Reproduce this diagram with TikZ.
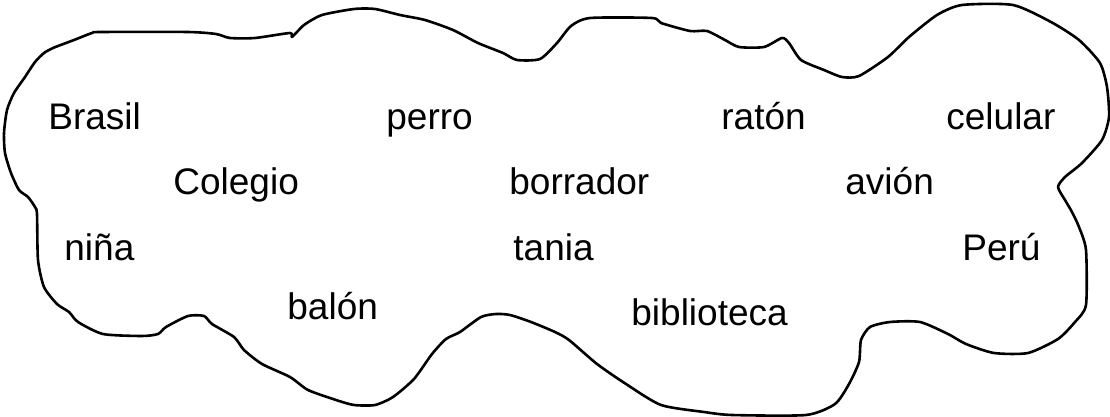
\documentclass[tikz,border=0pt]{standalone}
\usepackage{fontspec}
\setmainfont{Liberation Sans}

\begin{document}
\begin{tikzpicture}[x=0.5pt,y=-0.5pt,
	word/.style={anchor=base west,inner sep=0pt,font=\fontsize{18.5}{22}\selectfont}]
	\useasboundingbox (0,0) rectangle (1110,417);
	% cloud
	\draw[line width=1.3pt,line join=round] plot[smooth cycle,tension=0.4] coordinates {
		(101,32) (188,32) (216,34) (230,38) (255,38) (290,33) (292,37) (304,25)
		(322,15) (354,9) (375,9) (400,15) (425,20) (453,30) (478,43) (503,53)
		(517,60) (540,59) (557,43) (571,26) (590,18) (652,18) (661,23) (690,31)
		(707,31) (725,40) (739,47) (764,47) (782,38) (789,43) (801,60) (824,70)
		(842,77) (859,76) (888,57) (909,37) (937,15) (962,5) (1013,5) (1051,22)
		(1079,40) (1100,63) (1107,87) (1109,117) (1102,140) (1082,163) (1065,177)
		(1058,187) (1065,200) (1072,212) (1079,227) (1086,250) (1086,305) (1075,322)
		(1058,339) (1028,353) (994,353) (966,344) (948,334) (920,322) (890,322)
		(870,327) (861,340) (859,362) (849,384) (835,404) (806,415) (732,415)
		(704,412) (661,405) (626,384) (597,364) (569,340) (555,332) (531,322)
		(510,315) (496,314) (481,317) (460,332) (446,339) (432,354) (414,379)
		(393,397) (375,405) (354,405) (336,400) (308,390) (290,377) (262,364)
		(244,350) (234,337) (212,324) (204,316) (188,316) (166,327) (158,334)
		(142,336) (103,334) (78,322) (69,312) (57,304) (44,287) (38,260)
		(37,214) (35,207) (28,197) (19,190) (11,173) (5,153) (4,133) (7,110)
		(14,93) (25,77) (35,62) (44,53) (53,48) (74,40) (92,33)};
	% words
	\node[word] (brasil) at (48,130) {Brasil};
	\node[word] (perro) at (386,130) {perro};
	\node[word] (raton) at (721,130) {ratón};
	\node[word] (celular) at (946,130) {celular};
	\node[word] (colegio) at (173,195) {Colegio};
	\node[word] (borrador) at (509,195) {borrador};
	\node[word] (avion) at (845,195) {avión};
	\node[word] (nina) at (64,261) {niña};
	\node[word] (tania) at (513,261) {tania};
	\node[word] (peru) at (962,261) {Perú};
	\node[word] (balon) at (287,320) {balón};
	\node[word] (biblioteca) at (631,325) {biblioteca};
\end{tikzpicture}
\end{document}
